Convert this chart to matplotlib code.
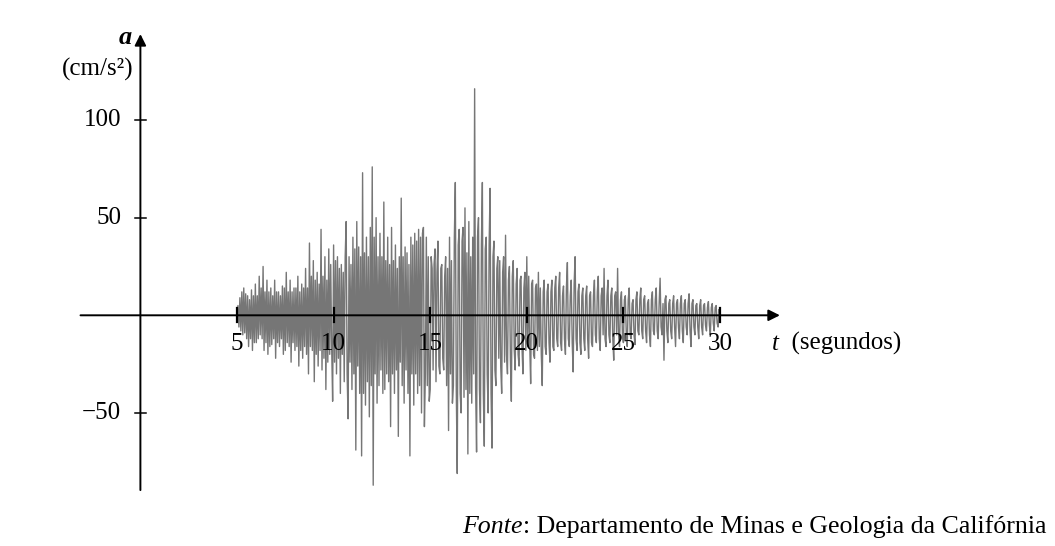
import numpy as np
import matplotlib
matplotlib.use('Agg')
import matplotlib.pyplot as plt

# Accelerogram: 20 values per second, one row per second (5 s ... 30 s)
first_second = 5
t_step = 0.05
accel_by_second = [
    [0, 5, -6, 9, -8, 12, -10, 14, -9, 11, -12, 10, -16, 8, -12, 13, -18, 10, -14, 16],          # 5
    [-14, 10, -12, 20, -10, 14, -12, 25, -18, 12, -14, 18, -20, 12, -16, 14, -15, 10, -12, 18],  # 6
    [-22, 12, -14, 12, -16, 10, -12, 15, -20, 14, -18, 22, -14, 12, -16, 18, -24, 12, -14, 14],  # 7
    [-18, 14, -16, 20, -26, 12, -18, 16, -22, 14, -16, 24, -20, 14, -30, 37, -16, 20, -18, 28],  # 8
    [-34, 18, -20, 22, -26, 16, -18, 44, -28, 20, -22, 30, -38, 18, -24, 34, -20, 26, -16, -44], # 9
    [36, -24, 28, -30, 30, -22, 24, -40, 26, -20, 22, -34, 30, 48, -30, -53, 30, -24, 26, -38],  # 10
    [40, -30, 34, -69, 48, -26, 35, -40, 30, -72, 73, -40, 32, -46, 40, -34, 30, -52, 45, -36],  # 11
    [76, -87, 40, -30, 50, -45, 30, -36, 42, -28, 30, -40, 58, -38, 28, -30, 40, -34, 26, -57],  # 12
    [45, -30, 28, -40, 36, -28, 24, -62, 30, -24, 60, -36, 30, -45, 35, -28, 32, -40, 26, -72],  # 13
    [40, -30, 36, -46, 42, -30, 38, -40, 44, -36, 40, -50, 42, 45, -57, -30, 40, -36, 30, -44],  # 14
    [-38, 30, 24, -28, 26, 34, -34, 22, 38, -26, -30, 24, 26, -22, -28, 20, 30, -36, 24, -59],   # 15
    [40, -30, 28, -45, -36, 40, 68, -38, -81, 36, 44, -40, -50, 38, 45, -42, 55, -38, 32, -71],  # 16
    [48, -40, 30, -45, 40, -30, 116, -36, -70, 40, 50, -38, -55, 36, 68, -40, -67, 34, 40, -30], # 17
    [-50, 36, 65, -40, -68, 30, 38, -28, -36, 24, 30, -22, 28, -26, -40, 22, 30, -24, 41, -20],  # 18
    [-30, 18, 25, -22, -44, 20, 28, -18, -28, 16, 24, -20, -26, 18, 20, -16, -30, 14, 22, -18],  # 19
    [30, -16, 20, -14, -35, 16, 18, -20, -22, 14, 16, -18, 22, -16, 14, -20, -36, 12, 18, -16],  # 20
    [-20, 12, 16, -14, -24, 12, 18, -16, -18, 14, 20, -12, -16, 14, 22, -14, -18, 10, 15, -12],  # 21
    [-20, 14, 27, -12, -16, 10, 18, -14, -29, 16, 30, -12, -18, 12, 16, -14, -20, 10, 14, -12],  # 22
    [-18, 10, 15, -12, -22, 10, 12, -14, -16, 10, 18, -10, -14, 12, 20, -12, -18, 10, 14, -10],  # 23
    [24, -12, -16, 10, 18, -10, -14, 10, 14, -12, -23, 10, 12, -10, 24, -10, -16, 8, 12, -10],   # 24
    [-14, 8, 10, -10, -16, 8, 14, -10, -12, 6, 8, -10, -15, 8, 12, -8, -10, 8, 14, -8],          # 25
    [-12, 8, 10, -8, -14, 6, 8, -10, -16, 8, 12, -8, -10, 8, 14, -8, -12, 6, 19, -6],            # 26
    [-10, 6, -23, 8, 10, -8, -14, 6, 8, -8, -12, 6, 10, -6, -16, 6, 8, -6, -12, 6],              # 27
    [10, -8, -14, 6, 8, -6, -10, 6, 11, -8, -16, 6, 8, -6, -10, 5, 6, -6, -12, 5],               # 28
    [8, -6, -10, 5, 6, -5, -8, 4, 7, -5, -10, 4, 6, -4, -8, 4, 5, -4, -6, 3],                    # 29
    [0],                                                                                          # 30
]

x_ticks = [5, 10, 15, 20, 25, 30]
y_ticks = [100, 50, -50]
y_tick_labels = ['100', '50', '\u221250']

t_parts, a_parts = [], []
for k, row in enumerate(accel_by_second):
    t_parts.append(first_second + k + t_step * np.arange(len(row)))
    a_parts.append(np.array(row, dtype=float))
t = np.concatenate(t_parts)
accel = np.concatenate(a_parts)

plt.rcParams['font.family'] = ['Liberation Serif', 'DejaVu Serif']
FS = 18

fig = plt.figure(figsize=(10.55, 5.46), dpi=100)
ax = fig.add_axes([0, 0, 1, 1])
# map the pixel grid of the reference onto data units
ax.set_xlim(-140.4 / 19.32, (1055 - 140.4) / 19.32)
ax.set_ylim(-(546 - 315.3) / 1.953, 315.3 / 1.953)
ax.axis('off')

# the signal
ax.plot(t, accel, color='#767676', lw=1.0, zorder=2)

# axes with arrow heads
arrow = dict(arrowstyle='-|>', color='black', lw=1.4, mutation_scale=17, shrinkA=0, shrinkB=0)
ax.annotate('', xy=(33.1, 0), xytext=(-3.1, 0), arrowprops=arrow, zorder=3)
ax.annotate('', xy=(0, 144), xytext=(0, -89.5), arrowprops=arrow, zorder=3)

# tick marks
for xt in x_ticks:
    ax.plot([xt, xt], [-3.5, 3.5], color='black', lw=1.6, zorder=4)
    ax.text(xt, -14.5, str(xt), ha='center', va='center', fontsize=FS, zorder=5)
for yt, lab in zip(y_ticks, y_tick_labels):
    ax.plot([-0.3, 0.3], [yt, yt], color='black', lw=1.1, zorder=4)
    ax.text(-1.0, yt, lab, ha='right', va='center', fontsize=FS)

# axis titles
ax.text(-0.45, 142, 'a', ha='right', va='center', fontsize=FS + 1, style='italic', weight='bold')
ax.text(-2.2, 126, '(cm/s\u00b2)', ha='center', va='center', fontsize=FS)
t_lab = ax.text(32.7, -14.5, 't', ha='left', va='center', fontsize=FS, style='italic')
ax.annotate('  (segundos)', xy=(1, 0.5), xycoords=t_lab, ha='left', va='center', fontsize=FS)

# source
fonte = fig.text(0.438, 0.035, 'Fonte', ha='left', va='center', fontsize=FS + 0.6, style='italic')
ax.annotate(': Departamento de Minas e Geologia da Califórnia', xy=(1, 0.5), xycoords=fonte,
            ha='left', va='center', fontsize=FS + 0.6)

fig.savefig('out.png', dpi=100)
